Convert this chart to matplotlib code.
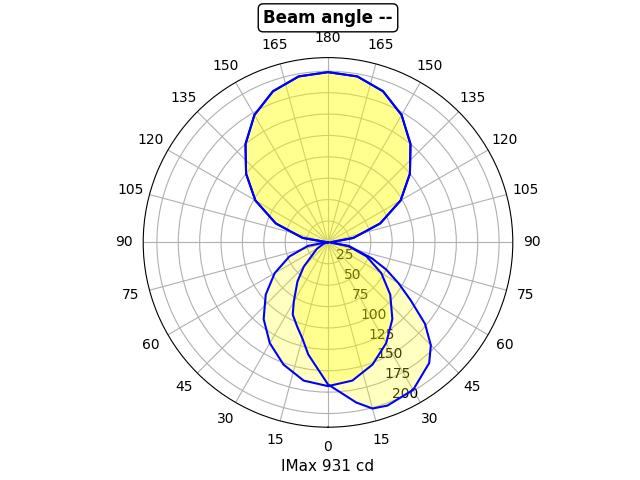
import numpy as np
import matplotlib.pyplot as plt

# upper lobe, shared by both planes (gamma 90..180)
top_gamma = [90, 100, 110, 120, 130, 140, 150, 160, 170, 180]
top_cd = [0, 30, 65, 98, 125, 150, 172, 188, 197, 199]

# plane A (symmetric), gamma 0..90
a_gamma = [0, 10, 20, 30, 40, 50, 60, 70, 80, 90]
a_cd = [168, 164, 152, 136, 117, 95, 72, 48, 24, 3]

# plane B (skewed), gamma -90..90
b_gamma = [-90, -75, -60, -45, -38, -30, -26, -20, -15, -10, 0, 10, 15, 20, 30, 40, 45,
           50, 55, 60, 65, 70, 80, 90]
b_cd = [0, 5, 15, 40, 58, 80, 94, 105, 116, 133, 166, 190, 201, 203, 199, 184, 170,
        148, 118, 95, 75, 55, 25, 2]

r_ticks = [25, 50, 75, 100, 125, 150, 175, 200]
r_max = 216


def full_curve(low_g, low_r):
    # lower part given, upper lobe added on both sides
    g = list(low_g) + top_gamma[1:] + [360 - t for t in top_gamma[::-1][1:]]
    r = list(low_r) + top_cd[1:] + top_cd[::-1][1:]
    return np.radians(g), np.array(r)


# plane A: mirror the lower half
a_g = [-x for x in a_gamma[::-1]] + a_gamma[1:]
a_r = a_cd[::-1] + a_cd[1:]
# start at -180 for a closed loop
curves = [full_curve(a_g, a_r), full_curve(b_gamma, b_cd)]

fig = plt.figure(figsize=(6.4, 4.8), dpi=100)
ax = plt.subplot(111, polar=True)
ax.set_theta_zero_location('S')

for th, r in curves:
    # prepend upper lobe for negative side so curve closes
    th2 = np.concatenate([np.radians([-180 + (180 - t) * 0 for t in []]), th])
    ax.fill(th, r, color='yellow', alpha=0.25, zorder=2)
    ax.plot(np.append(th, th[0]), np.append(r, r[0]), color='blue', linewidth=1.5, zorder=3)

angles = np.arange(0, 360, 15)
ax.set_xticks(np.radians(angles))
ax.set_xticklabels([str(a if a <= 180 else 360 - a) for a in angles])
ax.set_ylim(0, r_max)
ax.set_yticks(r_ticks)
ax.set_rlabel_position(22)
ax.grid(True, color='#b0b0b0', linewidth=0.8)
ax.set_axisbelow(True)

ax.set_title('Beam angle --', fontweight='bold', fontsize=12,
             bbox=dict(boxstyle='round', facecolor='white', edgecolor='black'))
ax.set_xlabel('IMax 931 cd', fontsize=11)

plt.savefig('out.png', dpi=100)
